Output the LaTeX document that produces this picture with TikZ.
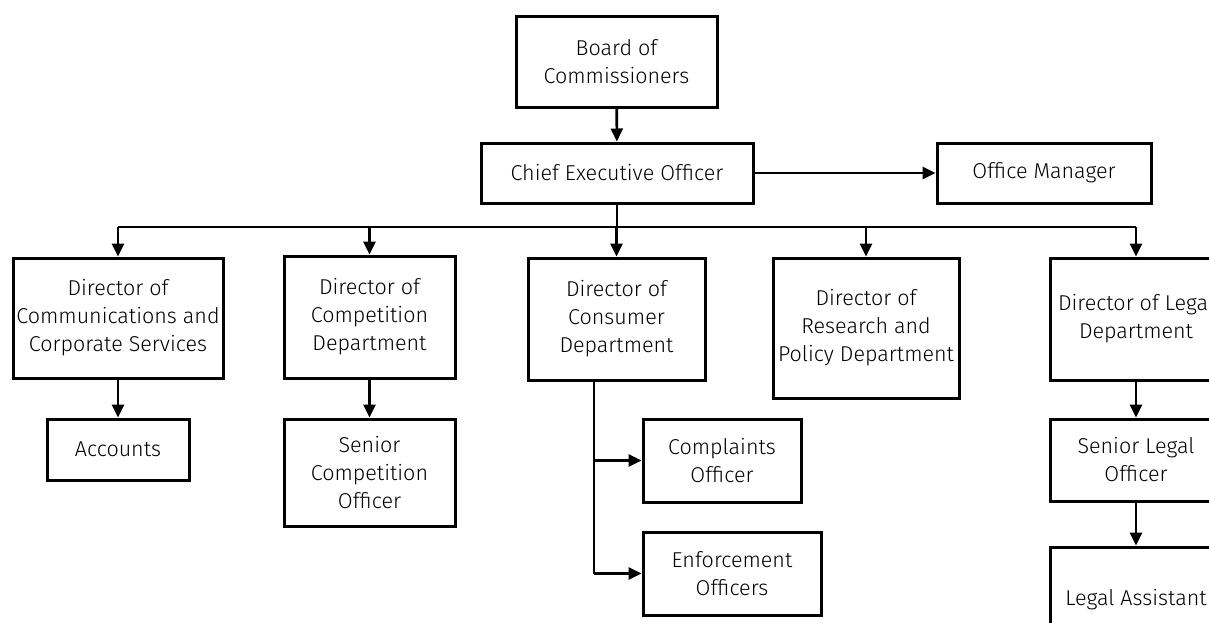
\documentclass[tikz,border=0pt]{standalone}
\usepackage{fontspec}
\setmainfont{Fira Sans Light}
\usetikzlibrary{arrows.meta}
\tikzset{
  box/.style={draw=black, line width=3pt, align=center, inner sep=0pt,
    font=\fontsize{21.5}{28}\selectfont, text=black},
  conn/.style={line width=2.6pt, -{Triangle[length=13pt,width=12pt]}},
  busline/.style={line width=2.6pt}
}
\begin{document}
\begin{tikzpicture}[x=1pt,y=-1pt]
\useasboundingbox (0,0) rectangle (1209,622);
\clip (0,0) rectangle (1209,622);
\node[box, minimum width=201pt, minimum height=91pt] (board) at (616.5,61.5) {Board of\\Commissioners};
\node[box, minimum width=272pt, minimum height=60pt] (ceo) at (617,173) {Chief Executive Officer};
\node[box, minimum width=214pt, minimum height=60pt] (office) at (1044,173) {Office Manager};
\node[box, minimum width=210pt, minimum height=120pt] (comm) at (118,318) {Director of\\Communications and\\Corporate Services};
\node[box, minimum width=171pt, minimum height=122pt] (comp) at (369.5,317) {Director of\\Competition\\Department};
\node[box, minimum width=177pt, minimum height=122pt] (cons) at (616.5,319) {Director of\\Consumer\\Department};
\node[box, minimum width=186pt, minimum height=140pt] (res) at (866,328) {Director of\\Research and\\Policy Department};
\node[box, minimum width=172pt, minimum height=122pt] (legal) at (1136,319) {Director of Legal\\Department};
\node[box, minimum width=142pt, minimum height=61pt] (acc) at (118,449.5) {Accounts};
\node[box, minimum width=171pt, minimum height=107pt] (scomp) at (369.5,472.5) {Senior\\Competition\\Officer};
\node[box, minimum width=158pt, minimum height=83pt] (compl) at (722,460.5) {Complaints\\Officer};
\node[box, minimum width=178pt, minimum height=83pt] (enf) at (732,573.5) {Enforcement\\Officers};
\node[box, minimum width=172pt, minimum height=82pt] (slegal) at (1136,460) {Senior Legal\\Officer};
\node[box, minimum width=172pt, minimum height=106pt] (lasst) at (1136,600) {Legal Assistant};
\coordinate (bus) at (617,227);
\coordinate (spine) at ([xshift=-22.5pt]cons.south);
% connectors
\draw[conn] (board) -- (ceo);
\draw[conn] (ceo) -- (office);
\draw[busline] (ceo.south) -- (bus);
\draw[busline] (comm.north |- bus) -- (legal.north |- bus);
\draw[conn] (comm.north |- bus) -- (comm.north);
\draw[conn] (comp.north |- bus) -- (comp.north);
\draw[conn] (cons.north |- bus) -- (cons.north);
\draw[conn] (res.north |- bus) -- (res.north);
\draw[conn] (legal.north |- bus) -- (legal.north);
\draw[conn] (comm) -- (acc);
\draw[conn] (comp) -- (scomp);
\draw[busline] (spine) -- (spine |- enf.west);
\draw[conn] (spine |- compl.west) -- (compl.west);
\draw[conn] (spine |- enf.west) -- (enf.west);
\draw[conn] (legal) -- (slegal);
\draw[conn] (slegal) -- (lasst);
\end{tikzpicture}
\end{document}
